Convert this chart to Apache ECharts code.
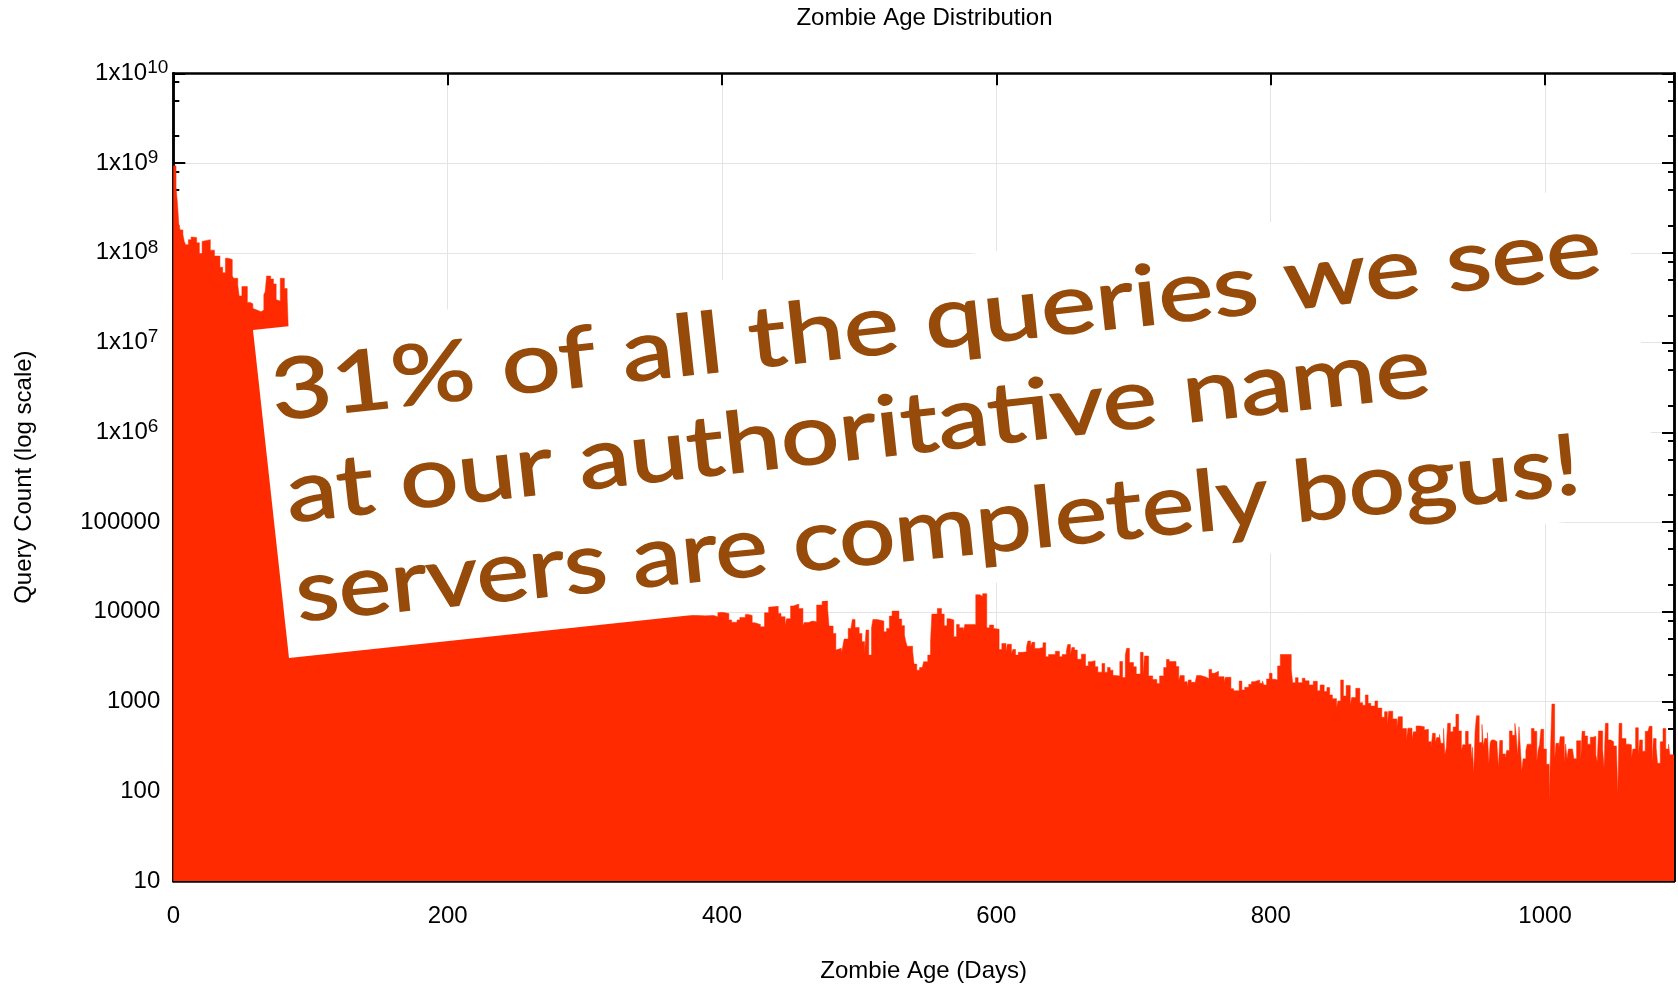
<!DOCTYPE html>
<html>
<head>
<meta charset="utf-8">
<style>html,body{margin:0;padding:0;background:#fff}#c{width:1678px;height:984px}</style>
<script src="https://cdn.jsdelivr.net/npm/echarts@6/dist/echarts.min.js"></script>
</head>
<body>
<div id="c"></div>
<script>
const ageDays = [
0,2,3,4,5,7,8,9,11,13,14,17,19,21,22,27,30,34,36,38,40,43,44,47,48,50,54,56,58,59,61,64,66,67,68,71,73,75,76,78,81,83,
84,90,100,120,150,180,220,260,300,340,360,
373,388,394,397,400,405,407,411,413,417,419,422,424,428,431,434,441,443,446,447,450,452,456,459,460,463,466,469,473,477,478,481,483,484,487,488,489,492,494,495,497,500,502,504,505,507,509,510,513,518,520,522,524,529,531,533,534,535,539,540,542,544,546,547,550,
552,553,557,560,562,564,566,569,571,573,576,577,585,588,590,593,595,598,599,602,604,607,608,611,612,614,616,619,622,623,625,626,628,631,634,636,638,643,646,648,651,652,654,655,657,659,662,665,667,669,672,674,677,679,681,683,685,686,690,692,694,695,697,700,702,705,707,708,711,714,717,719,722,724,726,
731,733,734,737,739,740,742,745,746,749,752,755,757,759,762,766,767,771,773,777,779,781,784,786,788,792,794,795,797,799,801,803,805,807,815,816,818,820,823,825,828,831,834,836,839,841,843,845,848,849,851,853,855,858,859,862,865,867,869,871,873,876,878,881,883,885,886,889,892,893,896,899,900,903,904,906,
909,910,912,913,915,917,918,920,921,923,924,926,927,928,929,931,933,935,937,939,940,942,944,946,947,948,949,950,952,954,955,956,958,959,960,961,963,965,966,967,969,971,972,974,976,978,979,980,981,982,983,984,986,987,990,992,994,995,996,997,999,1001,1003,1004,1005,1007,1008,1010,1011,1014,1015,1016,1017,1020,1021,1023,1026,1027,1029,1031,1033,1035,1037,1038,1039,1042,1043,1044,1046,1048,1050,1052,1053,1054,1056,1059,1061,1063,1064,1066,1068,1069,1071,1073,1075,1076,1078,1079,1081,1082,1084,1086,1088,1090,1091,1094
];
const queryCounts = [
9.3e8,5.4e8,3.6e8,2.1e8,1.8e8,1.6e8,1.34e8,1.23e8,1.4e8,1.5e8,1.48e8,1.29e8,9.8e7,1.34e8,1.4e8,1.07e8,9.2e7,6.9e7,6e7,8.7e7,8.4e7,5.5e7,5.2e7,4.4e7,3.3e7,4.2e7,2.8e7,2.7e7,2.4e7,2.3e7,2.2e7,2.3e7,3.4e7,3.7e7,5.5e7,5.1e7,4.5e7,3e7,2.9e7,5.2e7,4e7,3.2e7,
1.2e7,1e7,6e6,1.5e6,3e5,9e4,3e4,1.7e4,1.2e4,9500,9200,
9000,9100,8800,9900,9580,8100,7650,8100,8650,9350,9100,7530,7230,6800,9750,11500,9580,8800,7050,8350,11600,12200,10900,7050,7600,7870,7730,11870,13250,10900,6930,5730,3740,3920,3430,4070,4960,6530,6690,8220,6690,5733,4640,3430,6245,3290,6630,8220,7870,5980,6530,8950,10170,8285,7000,5500,4640,4130,3630,2610,2236,2390,2490,2780,3290,
4640,9420,10900,9420,6990,8350,8100,5263,7230,6630,5980,7230,15470,14800,15900,6630,7100,6530,6400,3800,4435,3580,4350,3430,3800,3290,3530,3580,4070,4720,4070,4560,3900,3990,4510,3150,3330,3620,3150,3330,3620,4320,3290,3990,3740,2960,3370,2490,2780,2850,2440,2125,2650,2125,2390,2236,1960,1930,2790,1850,3290,3920,2720,2440,2020,3530,1960,3210,1930,1760,1590,1930,2390,2940,2790,
2450,1700,1945,1665,1464,1738,1635,1665,1945,1893,1800,2280,2062,2170,1893,1665,1860,1390,1320,1690,1344,1440,1555,1665,1738,1600,1700,1530,1780,2062,1770,1738,2490,3340,2280,1620,1840,1620,1815,1700,1530,1680,1320,1530,1290,1430,1183,1075,845,1015,1738,1150,1510,910,1105,1403,970,910,1183,955,890,1015,845,668,770,547,780,640,524,678,500,373,505,380,460,533,
557,524,481,490,357,314,442,350,396,430,343,500,255,305,571,460,520,720,470,280,330,465,335,230,310,160,470,695,350,555,320,386,450,200,350,373,357,320,185,367,260,230,285,470,420,571,420,250,524,303,168,230,285,335,500,465,215,290,330,490,295,200,76,295,938,230,343,295,406,200,335,230,295,310,230,365,220,465,413,335,400,410,255,215,470,290,180,571,373,357,320,310,92,571,386,335,330,230,295,510,250,373,280,465,442,530,215,386,305,205,357,500,295,335,255,255
];
const xTickStep = 200;
const xMax = 1094;
const yMin = 10;
const yMax = 1e10;
const minorValues = [];
for (let p = 1; p < 10; p++) for (const m of [2, 5, 8]) minorValues.push(m * Math.pow(10, p));
const titleText = 'Zombie Age Distribution';
const xTitle = 'Zombie Age (Days)';
const yTitle = 'Query Count (log scale)';
const noteLines = ['31% of all the queries we see', 'at our authoritative name', 'servers are completely bogus!'];

const FONT = '"Liberation Sans", Arial, sans-serif';
const NOTE_FONT = '400 84px Lato, "Noto Sans", sans-serif';
const chart = echarts.init(document.getElementById('c'), null, {renderer: 'canvas'});

const ctx = document.createElement('canvas').getContext('2d');
ctx.font = NOTE_FONT;
function noteEl(text, x0, y0, x1, y1) {
  const len = Math.hypot(x1 - x0, y1 - y0);
  return {
    type: 'text', x: x0, y: y0, z: 102,
    rotation: Math.atan2(y0 - y1, x1 - x0),
    scaleX: len / ctx.measureText(text).width,
    style: {text, font: NOTE_FONT, fill: '#964b0a', stroke: '#964b0a', lineWidth: 1.5, lineJoin: 'round',
            textAlign: 'left', textVerticalAlign: 'bottom', textBaseline: 'bottom'}
  };
}
const axisLine = {show: true, onZero: false, lineStyle: {color: '#000', width: 2.5}};
const yLabelFmt = v => {
  const e = Math.round(Math.log10(v));
  if (e === 10) return '{a|1x10}{s|10}';
  return e >= 6 ? '{a|1x10}{sp|' + e + '}' : '{ap|' + Math.round(v) + '}';
};
function yAx(position, extra) {
  return Object.assign({
    type: 'log', logBase: 10, min: yMin, max: yMax, position, splitNumber: 10,
    axisLine, splitLine: {show: false}, minorTick: {show: false}, axisLabel: {show: false},
    axisTick: {show: true, inside: true, length: 12, lineStyle: {color: '#000', width: 2}}
  }, extra || {});
}
const minorTick = {show: true, inside: true, length: 6, customValues: minorValues, lineStyle: {color: '#000', width: 2}};
const option = {
  animation: false,
  backgroundColor: '#fff',
  title: {text: titleText, left: 919.5, top: 1, textAlign: 'center',
          textStyle: {fontFamily: FONT, fontWeight: 'normal', fontSize: 24, color: '#000'}},
  grid: {left: 173.3, right: 4, top: 73.3, bottom: 103, containLabel: false, outerBoundsMode: 'none'},
  xAxis: [
    {type: 'value', min: 0, max: xMax, interval: xTickStep, position: 'bottom',
     name: xTitle, nameLocation: 'middle', nameGap: 78,
     nameTextStyle: {fontFamily: FONT, fontSize: 24, color: '#000'},
     axisLine,
     axisTick: {show: true, inside: true, length: 12, lineStyle: {color: '#000', width: 2}},
     axisLabel: {fontFamily: FONT, fontSize: 24, color: '#000', margin: 23, showMaxLabel: false, formatter: v => String(v)},
     splitLine: {show: true, lineStyle: {color: '#e4e4e4', width: 1}}},
    {type: 'value', min: 0, max: xMax, interval: xTickStep, position: 'top',
     axisLine,
     axisTick: {show: true, inside: true, length: 12, lineStyle: {color: '#000', width: 2}},
     axisLabel: {show: false}, splitLine: {show: false}}
  ],
  yAxis: [
    yAx('left', {
      name: yTitle, nameLocation: 'middle', nameGap: 137, nameRotate: 90,
      nameTextStyle: {fontFamily: FONT, fontSize: 24, color: '#000'},
      axisLabel: {show: true, margin: 5, formatter: yLabelFmt, rich: {
        a: {fontFamily: FONT, fontSize: 24, color: '#000', lineHeight: 30},
        ap: {fontFamily: FONT, fontSize: 24, color: '#000', lineHeight: 30, padding: [0, 8, 0, 0]},
        s: {fontFamily: FONT, fontSize: 19, color: '#000', verticalAlign: 'top', lineHeight: 22},
        sp: {fontFamily: FONT, fontSize: 19, color: '#000', verticalAlign: 'top', lineHeight: 22, padding: [0, 10, 0, 0]}
      }},
      splitLine: {show: true, lineStyle: {color: '#e4e4e4', width: 1}}
    }),
    yAx('right'),
    yAx('left', {axisTick: minorTick}),
    yAx('right', {axisTick: minorTick})
  ],
  series: [{
    type: 'line', xAxisIndex: 0, yAxisIndex: 0, step: 'end', showSymbol: false, silent: true,
    sampling: 'none', z: 3,
    lineStyle: {width: 0.5, color: '#ff2a00'},
    areaStyle: {color: '#ff2a00', opacity: 1, origin: 'start'},
    data: ageDays.map((d, i) => [d, queryCounts[i]])
  }],
  graphic: {elements: [
    {type: 'polygon', z: 100, shape: {points: [[253, 330], [1623.5, 184.5], [1659.5, 512], [289, 658]]},
     style: {fill: '#fff'}},
    noteEl(noteLines[0], 276, 435, 1605, 290),
    noteEl(noteLines[1], 291, 537, 1434, 410),
    noteEl(noteLines[2], 300, 636, 1584, 508)
  ]}
};
chart.setOption(option);
</script>
</body>
</html>
